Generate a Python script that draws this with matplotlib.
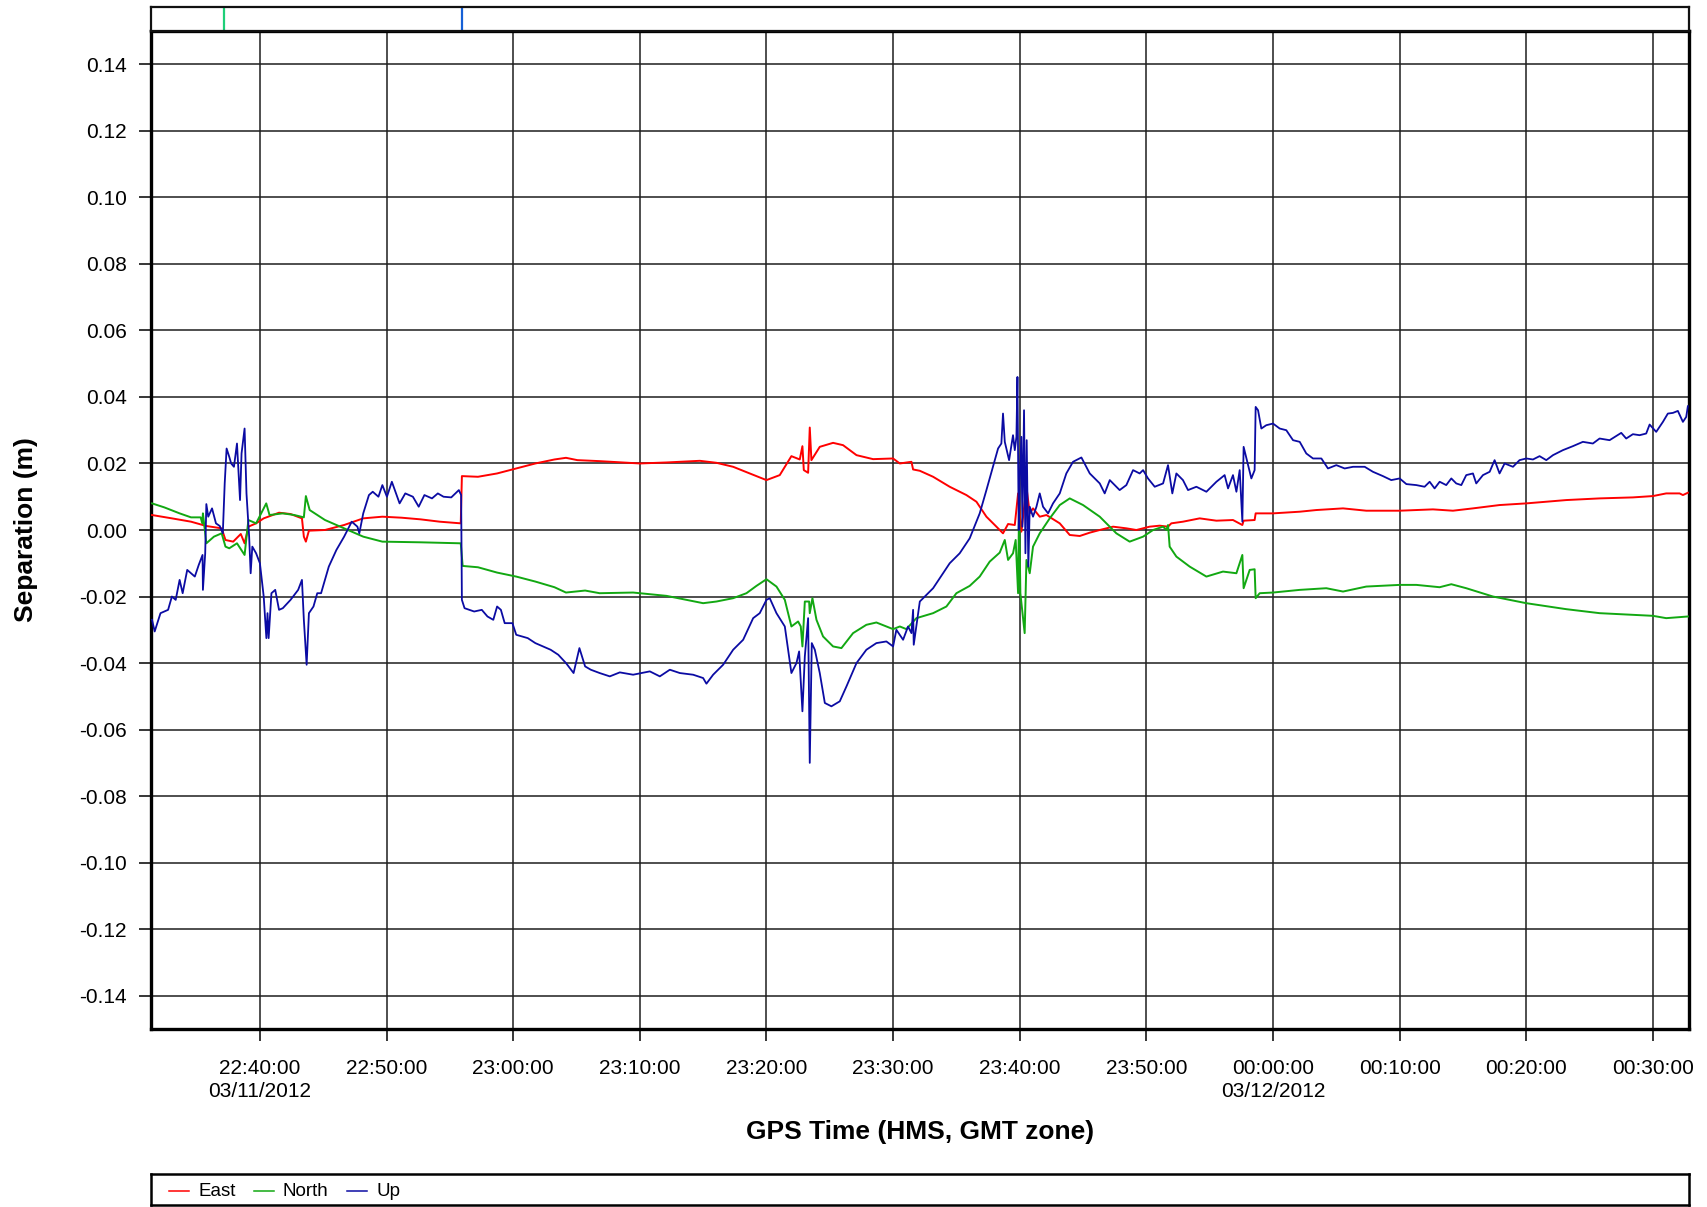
import numpy as np
import pandas as pd
import matplotlib
matplotlib.use("Agg")
import matplotlib.pyplot as plt

plt.rcParams['font.family'] = ['Liberation Sans', 'DejaVu Sans']

# ---------------- data (minutes after 2012-03-11 22:30:00 GPS) ----------------
start_time = "2012-03-11 22:30:00"

east_min = [1.48, 3.05, 4.56, 5.77, 6.98, 7.28, 7.89, 8.49, 8.79, 9.09, 9.70, 10.30,
            11.51, 12.42, 13.32, 13.47, 13.63, 13.87, 15.14, 16.65, 18.16, 19.67, 21.18,
            22.69, 24.20, 25.86, 25.95, 27.22, 28.73, 30.24, 31.75, 33.26, 34.17, 35.07,
            36.83, 40.00, 42.11, 44.74, 46.05, 47.37, 48.68, 50.00, 51.05, 51.97, 52.63,
            52.84, 52.95, 53.29, 53.42, 53.55, 54.21, 55.26, 56.05, 57.11, 58.42, 60.00,
            60.53, 61.45, 61.58, 62.11, 63.16, 64.47, 65.79, 66.58, 67.37, 68.16, 68.68,
            69.08, 69.61, 69.87, 70.13, 70.53, 70.79, 71.05, 71.58, 72.11, 73.16, 73.95,
            74.74, 75.53, 76.32, 77.37, 78.42, 79.21, 80.26, 81.05, 81.71, 81.97, 82.89,
            84.21, 85.53, 86.84, 87.58, 87.68, 88.55, 88.63, 90.00, 92.11, 93.42, 95.53,
            97.37, 100.00, 102.63, 104.21, 105.79, 107.89, 110.00, 113.16, 115.79, 118.42,
            120.00, 121.05, 122.11, 122.37, 122.76]
east_val = [0.0045, 0.0035, 0.0025, 0.0012, 0.0005, -0.0030, -0.0035, -0.0012, -0.0040,
            0.0010, 0.0020, 0.0035, 0.0052, 0.0048, 0.0035, -0.0020, -0.0035, -0.0002,
            0.0000, 0.0015, 0.0035, 0.0040, 0.0037, 0.0032, 0.0025, 0.0020, 0.0162, 0.0160,
            0.0170, 0.0185, 0.0200, 0.0212, 0.0217, 0.0210, 0.0207, 0.0200, 0.0203, 0.0208,
            0.0202, 0.0190, 0.0170, 0.0150, 0.0165, 0.0222, 0.0212, 0.0252, 0.0180, 0.0172,
            0.0308, 0.0210, 0.0250, 0.0262, 0.0255, 0.0225, 0.0213, 0.0215, 0.0200, 0.0205,
            0.0182, 0.0178, 0.0160, 0.0130, 0.0105, 0.0085, 0.0040, 0.0010, -0.0010, 0.0018,
            0.0015, 0.0110, -0.0005, 0.0130, 0.0050, 0.0065, 0.0040, 0.0045, 0.0020, -0.0015,
            -0.0018, -0.0008, 0.0000, 0.0010, 0.0005, 0.0000, 0.0010, 0.0013, 0.0010, 0.0020,
            0.0025, 0.0035, 0.0028, 0.0030, 0.0015, 0.0028, 0.0030, 0.0050, 0.0050, 0.0055,
            0.0060, 0.0065, 0.0058, 0.0058, 0.0062, 0.0058, 0.0065, 0.0075, 0.0080, 0.0090,
            0.0095, 0.0098, 0.0102, 0.0110, 0.0110, 0.0105, 0.0112]

north_min = [1.48, 2.45, 3.66, 4.56, 5.32, 5.45, 5.50, 5.77, 6.37, 6.98, 7.28, 7.58, 8.19,
             8.79, 9.09, 9.70, 10.30, 10.50, 10.76, 11.81, 12.72, 13.47, 13.63, 13.93, 15.14,
             16.65, 18.16, 19.67, 22.69, 25.86, 26.01, 27.22, 28.73, 30.24, 31.75, 33.26,
             34.17, 35.68, 36.83, 39.47, 42.11, 43.42, 45.00, 46.05, 47.37, 48.42, 49.21,
             50.00, 50.79, 51.45, 51.97, 52.50, 52.71, 52.84, 53.03, 53.37, 53.42, 53.63,
             53.95, 54.47, 55.26, 55.92, 56.84, 57.89, 58.68, 59.47, 60.00, 60.53, 61.05,
             61.84, 63.16, 64.21, 65.00, 66.05, 66.84, 67.63, 68.42, 68.82, 69.08, 69.47,
             69.68, 69.87, 69.95, 70.05, 70.39, 70.53, 70.79, 71.05, 71.58, 72.37, 73.16,
             73.95, 75.00, 76.32, 77.63, 78.68, 79.74, 80.53, 81.32, 81.58, 81.71, 81.84,
             82.37, 83.42, 84.74, 86.05, 87.11, 87.58, 87.68, 88.16, 88.55, 88.63, 88.95,
             90.00, 92.11, 94.21, 95.53, 97.37, 100.00, 101.32, 103.16, 104.08, 105.26,
             107.37, 110.00, 113.16, 115.79, 120.00, 121.05, 122.76]
north_val = [0.0080, 0.0068, 0.0050, 0.0038, 0.0038, 0.0020, 0.0050, -0.0040, -0.0020,
             -0.0010, -0.0050, -0.0055, -0.0040, -0.0075, 0.0030, 0.0020, 0.0065, 0.0080,
             0.0045, 0.0050, 0.0045, 0.0038, 0.0102, 0.0060, 0.0030, 0.0005, -0.0020,
             -0.0035, -0.0037, -0.0040, -0.0108, -0.0112, -0.0128, -0.0140, -0.0155, -0.0172,
             -0.0188, -0.0182, -0.0190, -0.0188, -0.0198, -0.0208, -0.0220, -0.0215, -0.0205,
             -0.0190, -0.0168, -0.0148, -0.0170, -0.0210, -0.0290, -0.0275, -0.0290, -0.0350,
             -0.0215, -0.0215, -0.0250, -0.0205, -0.0270, -0.0320, -0.0350, -0.0355, -0.0310,
             -0.0285, -0.0278, -0.0290, -0.0298, -0.0290, -0.0298, -0.0265, -0.0250, -0.0230,
             -0.0190, -0.0168, -0.0140, -0.0095, -0.0068, -0.0030, -0.0090, -0.0070, -0.0030,
             -0.0190, 0.0080, -0.0190, -0.0310, -0.0090, -0.0130, -0.0050, -0.0010, 0.0035,
             0.0075, 0.0095, 0.0075, 0.0040, -0.0010, -0.0035, -0.0020, 0.0000, 0.0010,
             0.0000, 0.0015, -0.0050, -0.0080, -0.0110, -0.0140, -0.0125, -0.0130, -0.0075,
             -0.0175, -0.0120, -0.0118, -0.0205, -0.0190, -0.0188, -0.0180, -0.0175, -0.0185,
             -0.0170, -0.0165, -0.0165, -0.0172, -0.0163, -0.0175, -0.0200, -0.0220, -0.0238,
             -0.0250, -0.0258, -0.0265, -0.0260]

up_min = [1.48, 1.69, 2.15, 2.75, 3.05, 3.35, 3.66, 3.90, 4.26, 4.56, 4.86, 5.17, 5.47,
          5.50, 5.68, 5.77, 5.92, 6.22, 6.53, 6.83, 7.07, 7.22, 7.37, 7.58, 7.73, 7.95, 8.19,
          8.43, 8.55, 8.79, 8.94, 9.15, 9.27, 9.40, 9.70, 10.00, 10.30, 10.51, 10.60, 10.69,
          10.91, 11.21, 11.51, 11.81, 12.42, 13.02, 13.32, 13.47, 13.69, 13.87, 14.23, 14.53,
          14.83, 15.44, 16.04, 16.65, 17.25, 17.70, 17.85, 18.16, 18.61, 18.91, 19.36, 19.67,
          20.03, 20.42, 21.03, 21.48, 22.08, 22.54, 22.99, 23.59, 24.05, 24.50, 25.11, 25.71,
          25.89, 25.95, 26.16, 26.92, 27.52, 27.97, 28.43, 28.73, 29.03, 29.33, 29.94, 30.24,
          31.15, 31.75, 32.36, 32.96, 33.56, 34.17, 34.77, 35.23, 35.68, 36.13, 36.83, 37.63,
          38.42, 39.47, 40.79, 41.58, 42.37, 43.16, 44.21, 45.00, 45.26, 45.79, 46.58, 47.37,
          48.16, 48.95, 49.47, 50.00, 50.26, 50.79, 51.45, 51.97, 52.37, 52.58, 52.84, 53.03,
          53.29, 53.42, 53.58, 53.82, 54.21, 54.61, 55.13, 55.79, 56.32, 57.11, 57.89, 58.68,
          59.47, 60.00, 60.26, 60.79, 61.18, 61.45, 61.58, 61.63, 62.11, 63.16, 64.47, 65.26,
          66.05, 66.84, 67.37, 67.89, 68.29, 68.55, 68.68, 68.82, 69.16, 69.47, 69.61, 69.74,
          69.82, 69.92, 70.00, 70.13, 70.21, 70.34, 70.45, 70.55, 70.68, 70.79, 71.05, 71.32,
          71.58, 71.84, 72.24, 72.63, 73.16, 73.68, 74.21, 74.87, 75.53, 76.32, 76.71, 77.11,
          77.50, 77.89, 78.42, 78.95, 79.47, 79.74, 80.13, 80.66, 81.32, 81.71, 82.05, 82.37,
          82.89, 83.29, 83.95, 84.74, 85.53, 86.18, 86.45, 86.84, 87.11, 87.37, 87.58, 87.68,
          88.03, 88.29, 88.55, 88.63, 88.82, 89.08, 89.47, 90.00, 90.53, 91.05, 91.58, 92.11,
          92.63, 93.16, 93.82, 94.34, 95.00, 95.66, 96.32, 97.24, 97.89, 98.68, 99.34, 100.00,
          100.53, 101.32, 101.97, 102.37, 102.76, 103.16, 103.68, 104.08, 104.47, 104.87,
          105.26, 105.79, 106.05, 106.58, 107.11, 107.50, 107.89, 108.29, 108.95, 109.47,
          110.00, 110.53, 111.05, 111.58, 112.11, 112.89, 113.68, 114.47, 115.26, 115.79,
          116.58, 117.50, 117.89, 118.42, 118.95, 119.47, 119.74, 120.26, 120.79, 121.18,
          121.58, 121.97, 122.37, 122.63, 122.76]
up_val = [-0.0270, -0.0305, -0.0250, -0.0240, -0.0200, -0.0210, -0.0150, -0.0190, -0.0120,
          -0.0130, -0.0140, -0.0105, -0.0075, -0.0180, -0.0070, 0.0078, 0.0040, 0.0065,
          0.0020, 0.0012, -0.0010, 0.0140, 0.0245, 0.0220, 0.0200, 0.0190, 0.0260, 0.0090,
          0.0230, 0.0305, 0.0110, -0.0020, -0.0130, -0.0050, -0.0070, -0.0100, -0.0200,
          -0.0325, -0.0250, -0.0325, -0.0190, -0.0180, -0.0240, -0.0235, -0.0210, -0.0180,
          -0.0150, -0.0270, -0.0405, -0.0250, -0.0230, -0.0190, -0.0190, -0.0110, -0.0060,
          -0.0020, 0.0025, 0.0010, -0.0010, 0.0050, 0.0105, 0.0115, 0.0100, 0.0135, 0.0100,
          0.0145, 0.0080, 0.0110, 0.0100, 0.0070, 0.0105, 0.0095, 0.0110, 0.0100, 0.0098,
          0.0120, 0.0105, -0.0210, -0.0235, -0.0245, -0.0240, -0.0260, -0.0270, -0.0230,
          -0.0240, -0.0280, -0.0280, -0.0315, -0.0325, -0.0340, -0.0350, -0.0360, -0.0375,
          -0.0400, -0.0430, -0.0355, -0.0410, -0.0420, -0.0430, -0.0440, -0.0428, -0.0435,
          -0.0425, -0.0440, -0.0420, -0.0430, -0.0435, -0.0445, -0.0462, -0.0435, -0.0405,
          -0.0360, -0.0330, -0.0265, -0.0250, -0.0210, -0.0205, -0.0250, -0.0290, -0.0430,
          -0.0400, -0.0365, -0.0545, -0.0380, -0.0265, -0.0700, -0.0340, -0.0360, -0.0430,
          -0.0520, -0.0530, -0.0515, -0.0470, -0.0400, -0.0360, -0.0340, -0.0335, -0.0350,
          -0.0300, -0.0330, -0.0290, -0.0310, -0.0240, -0.0345, -0.0215, -0.0175, -0.0100,
          -0.0070, -0.0025, 0.0050, 0.0120, 0.0190, 0.0245, 0.0260, 0.0350, 0.0265, 0.0210,
          0.0285, 0.0240, 0.0280, 0.0460, 0.0000, 0.0150, 0.0280, 0.0010, 0.0360, -0.0070,
          0.0270, -0.0110, 0.0070, 0.0040, 0.0070, 0.0110, 0.0070, 0.0050, 0.0080, 0.0110,
          0.0170, 0.0205, 0.0218, 0.0170, 0.0140, 0.0110, 0.0150, 0.0135, 0.0120, 0.0135,
          0.0180, 0.0170, 0.0180, 0.0155, 0.0130, 0.0140, 0.0195, 0.0110, 0.0170, 0.0150,
          0.0120, 0.0130, 0.0115, 0.0145, 0.0165, 0.0125, 0.0165, 0.0115, 0.0180, 0.0025,
          0.0250, 0.0195, 0.0155, 0.0180, 0.0370, 0.0360, 0.0305, 0.0315, 0.0320, 0.0305,
          0.0300, 0.0270, 0.0265, 0.0230, 0.0215, 0.0215, 0.0185, 0.0195, 0.0185, 0.0190,
          0.0190, 0.0175, 0.0162, 0.0150, 0.0155, 0.0138, 0.0135, 0.0130, 0.0145, 0.0125,
          0.0145, 0.0135, 0.0155, 0.0140, 0.0135, 0.0165, 0.0170, 0.0140, 0.0165, 0.0175,
          0.0210, 0.0170, 0.0200, 0.0190, 0.0210, 0.0215, 0.0212, 0.0222, 0.0210, 0.0225,
          0.0240, 0.0252, 0.0265, 0.0260, 0.0275, 0.0270, 0.0292, 0.0275, 0.0288, 0.0285,
          0.0290, 0.0317, 0.0295, 0.0325, 0.0350, 0.0352, 0.0358, 0.0325, 0.0340, 0.0372]

# event markers in the top strip (minutes after start)
event_min = [7.18, 25.97]

series_names = ["East", "North", "Up"]
x_tick_labels = ["22:40:00\n03/11/2012", "22:50:00", "23:00:00", "23:10:00", "23:20:00",
                 "23:30:00", "23:40:00", "23:50:00", "00:00:00\n03/12/2012", "00:10:00",
                 "00:20:00", "00:30:00"]
x_tick_min = [10, 20, 30, 40, 50, 60, 70, 80, 90, 100, 110, 120]
y_ticks = [-0.14, -0.12, -0.10, -0.08, -0.06, -0.04, -0.02, 0.00,
           0.02, 0.04, 0.06, 0.08, 0.10, 0.12, 0.14]
x_range_min = [1.40, 122.85]
y_range = [-0.15, 0.15]

# ---------------- drawing ----------------
t0 = pd.Timestamp(start_time)


def to_time(m):
    return t0 + pd.to_timedelta(np.asarray(m, dtype=float), unit="min")


W, H = 1707, 1207
fig = plt.figure(figsize=(W / 100, H / 100), dpi=100)


def rect(l, t, r, b):
    return [l / W, 1 - b / H, (r - l) / W, (b - t) / H]


colors = {"East": "#ff0000", "North": "#12a812", "Up": "#0b0ba3"}

ax = fig.add_axes(rect(151, 31, 1689, 1029))
ax.plot(to_time(east_min), east_val, color=colors["East"], lw=1.4, zorder=3)
ax.plot(to_time(north_min), north_val, color=colors["North"], lw=1.4, zorder=3)
ax.plot(to_time(up_min), up_val, color=colors["Up"], lw=1.3, zorder=4)

ax.set_xlim(to_time(x_range_min[0]), to_time(x_range_min[1]))
ax.set_ylim(*y_range)
ax.set_xticks(to_time(x_tick_min))
ax.set_xticklabels(x_tick_labels, fontsize=15, linespacing=1.27)
ax.set_yticks(y_ticks)
ax.set_yticklabels([f"{v:.2f}" for v in y_ticks], fontsize=15)
ax.grid(True, color="#1e1e1e", lw=1.1)
ax.set_axisbelow(True)
ax.tick_params(axis="x", direction="out", length=8.6, width=1.1, pad=13.0, colors="black")
ax.tick_params(axis="y", direction="out", length=8.6, width=1.1, pad=8.6, colors="black")
for s in ax.spines.values():
    s.set_linewidth(2.4)
    s.set_color("black")

fig.text(26 / W, 1 - 530 / H, "Separation (m)", rotation=90, ha="center", va="center",
         fontsize=19, fontweight="bold")
fig.text(920 / W, 1 - 1132 / H, "GPS Time (HMS, GMT zone)", ha="center", va="center",
         fontsize=19, fontweight="bold")

# top event strip
axs = fig.add_axes(rect(151, 7, 1689, 31))
axs.set_xlim(ax.get_xlim())
axs.set_ylim(0, 1)
for m, c in zip(event_min, ["#1ecf78", "#1560d6"]):
    axs.axvline(to_time([m])[0], color=c, lw=1.6)
axs.set_xticks([])
axs.set_yticks([])
for s in axs.spines.values():
    s.set_linewidth(1.6)
    s.set_color("#111111")

# legend box (entries placed manually in figure pixel coordinates)
L, T, R, B = 151, 1174, 1689, 1205
axl = fig.add_axes(rect(L, T, R, B))
axl.set_xlim(L, R)
axl.set_ylim(H - B, H - T)
axl.set_xticks([])
axl.set_yticks([])
for s in axl.spines.values():
    s.set_linewidth(1.8)
    s.set_color("black")
legend_line_x = [169, 254, 347]
legend_text_x = [198, 283, 377]
ly = H - 1191
for name, lx, tx in zip(series_names, legend_line_x, legend_text_x):
    axl.plot([lx, lx + 20], [ly, ly], color=colors[name], lw=1.1)
    axl.text(tx, ly, name, ha="left", va="center", fontsize=13.5)

fig.savefig("out.png", dpi=100)
